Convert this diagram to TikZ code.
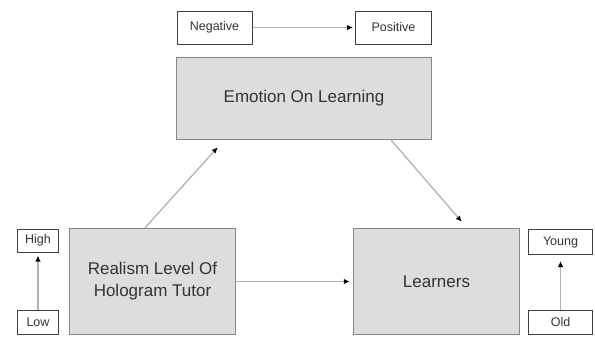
\documentclass[tikz,border=0pt]{standalone}
\usepackage{fontspec}
\setmainfont{Liberation Sans}
\usetikzlibrary{arrows.meta}
\usetikzlibrary{calc}

\begin{document}
\begin{tikzpicture}[
    x=1pt,
    y=-1pt,
    bigbox/.style={draw=gray!95,line width=1.4pt,fill=gray!27,inner sep=0pt,
      text=black!80,font=\fontsize{17}{22}\selectfont,align=center},
    smallbox/.style={draw=black!75,line width=1pt,fill=white,inner sep=0pt,
      text=black!80,font=\fontsize{12.5}{15}\selectfont},
    link/.style={draw=gray!60,line width=1.3pt,-{Latex[length=6pt,width=5.5pt,color=black]}},
]
    \useasboundingbox (0,0) rectangle (595,338);
    \node (emo) at (304,98.5) [bigbox,minimum width=255pt,minimum height=82pt] {Emotion On Learning};
    \node (real) at (152.5,281.5) [bigbox,minimum width=166pt,minimum height=106pt] {Realism Level Of\\Hologram Tutor};
    \node (learn) at (436.5,281.5) [bigbox,minimum width=166pt,minimum height=106pt] {Learners};
    \node (neg) at (214.5,27.5) [smallbox,minimum width=75pt,minimum height=33pt] {Negative};
    \node (pos) at (393.5,27.5) [smallbox,minimum width=76pt,minimum height=33pt] {Positive};
    \node (high) at (38,240.5) [smallbox,minimum width=41pt,minimum height=23pt] {High};
    \node (low) at (38,322.5) [smallbox,minimum width=41pt,minimum height=24pt] {Low};
    \node (young) at (560.5,242) [smallbox,minimum width=64pt,minimum height=25pt] {Young};
    \node (old) at (560.5,322.5) [smallbox,minimum width=64pt,minimum height=24pt] {Old};
    \draw[link] ($(real.north)+(-7.5,0)$) -- ($(emo.south west)+(42,7)$);
    \draw[link] ($(emo.south east)+(-41,0)$) -- ($(learn.north west)+(109,-6)$);
    \draw[link,shorten >=3pt] (real.east) -- (learn.west);
    \draw[link,shorten >=2pt] (neg.east) -- (pos.west);
    \draw[link,shorten >=3pt] (low.north) -- (high.south);
    \draw[link,shorten >=6pt] (old.north) -- (young.south);
\end{tikzpicture}
\end{document}
